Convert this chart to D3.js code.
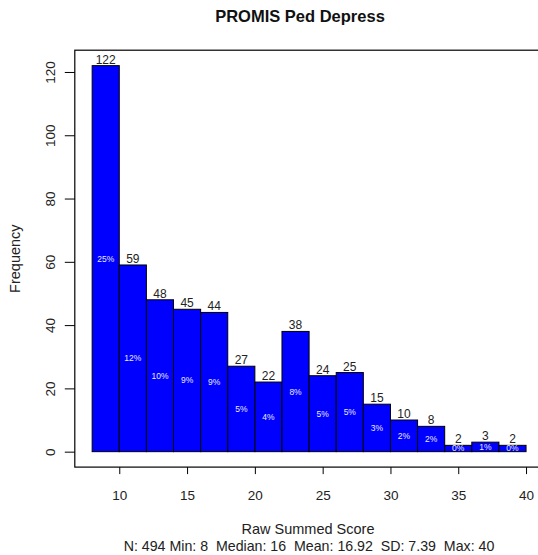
<!DOCTYPE html>
<html>
<head>
<meta charset="utf-8">
<script src="https://cdn.jsdelivr.net/npm/d3@7"></script>
<style>
  html, body { margin: 0; padding: 0; background: #fff; }
  svg { display: block; font-family: "Liberation Sans", Arial, sans-serif; }
  .keep-spaces { white-space: pre; }
</style>
</head>
<body>
<svg id="chart" width="538" height="555"></svg>
<script>
// Histogram of raw summed scores, bins of width 2 from 8 to 40
const binStarts = [8, 10, 12, 14, 16, 18, 20, 22, 24, 26, 28, 30, 32, 34, 36, 38];
const binWidth = 2;
const counts = [122, 59, 48, 45, 44, 27, 22, 38, 24, 25, 15, 10, 8, 2, 3, 2];
const percents = ["25%", "12%", "10%", "9%", "9%", "5%", "4%", "8%", "5%", "5%", "3%", "2%", "2%", "0%", "1%", "0%"];
const xTicks = [10, 15, 20, 25, 30, 35, 40];
const yTicks = [0, 20, 40, 60, 80, 100, 120];
const titleText = "PROMIS Ped Depress";
const xLabel = "Raw Summed Score";
const yLabel = "Frequency";
const summaryText = "N: 494 Min: 8  Median: 16  Mean: 16.92  SD: 7.39  Max: 40";

const svg = d3.select("#chart");

// Axis ranges padded by 4% like a base-graphics plot
const xMin = 8, xMax = 40, yMax = d3.max(counts);
const xPad = (xMax - xMin) * 0.04, yPad = yMax * 0.04;
const x = d3.scaleLinear().domain([xMin - xPad, xMax + xPad]).range([74.8, 543.4]);
const y = d3.scaleLinear().domain([-yPad, yMax + yPad]).range([467.1, 50.2]);

const bins = binStarts.map((s, i) => ({ x0: s, x1: s + binWidth, n: counts[i], pct: percents[i] }));

// Bars
svg.append("g").selectAll("rect").data(bins).join("rect")
  .attr("x", d => x(d.x0))
  .attr("y", d => y(d.n))
  .attr("width", d => x(d.x1) - x(d.x0))
  .attr("height", d => y(0) - y(d.n))
  .attr("fill", "#0000ff")
  .attr("stroke", "#000")
  .attr("stroke-width", 1);

// Count labels above bars
svg.append("g").selectAll("text").data(bins).join("text")
  .attr("x", d => x((d.x0 + d.x1) / 2))
  .attr("y", d => y(d.n) - 2)
  .attr("text-anchor", "middle")
  .attr("font-size", 12)
  .attr("fill", "#222")
  .text(d => d.n);

// Percentage labels at half bar height
svg.append("g").selectAll("text").data(bins).join("text")
  .attr("x", d => x((d.x0 + d.x1) / 2))
  .attr("y", d => y(d.n / 2))
  .attr("dy", "0.35em")
  .attr("text-anchor", "middle")
  .attr("font-size", 8.5)
  .attr("fill", "#e8e8ff")
  .text(d => d.pct);

// Plot frame
svg.append("rect")
  .attr("x", x.range()[0]).attr("y", y.range()[1])
  .attr("width", x.range()[1] - x.range()[0])
  .attr("height", y.range()[0] - y.range()[1])
  .attr("fill", "none").attr("stroke", "#000").attr("stroke-width", 1.2);

// X axis
const xAxis = d3.axisBottom(x).tickValues(xTicks).tickSize(7).tickPadding(0).tickFormat(d3.format("d"));
const gx = svg.append("g").attr("transform", `translate(0,${y.range()[0]})`).call(xAxis);
gx.select(".domain").remove();
gx.selectAll("line").attr("stroke", "#000");
gx.selectAll("text").attr("font-size", 13.5).attr("fill", "#222")
  .attr("dy", null).attr("y", 33).attr("font-family", "Liberation Sans, Arial, sans-serif");

// Y axis with vertical labels
const yAxis = d3.axisLeft(y).tickValues(yTicks).tickSize(10).tickFormat(d3.format("d"));
const gy = svg.append("g").attr("transform", `translate(${x.range()[0]},0)`).call(yAxis);
gy.select(".domain").remove();
gy.selectAll("line").attr("stroke", "#000");
gy.selectAll("text")
  .attr("x", null).attr("dy", null)
  .attr("text-anchor", "middle")
  .attr("font-size", 13.5).attr("fill", "#222")
  .attr("font-family", "Liberation Sans, Arial, sans-serif")
  .attr("transform", "translate(-20,0) rotate(-90)");

// Titles
svg.append("text").attr("x", 300).attr("y", 22).attr("text-anchor", "middle")
  .attr("font-size", 16.5).attr("font-weight", "bold").attr("fill", "#111").text(titleText);
svg.append("text").attr("x", 308).attr("y", 534).attr("text-anchor", "middle")
  .attr("font-size", 14.5).attr("fill", "#222").text(xLabel);
svg.append("text").attr("class", "keep-spaces").attr("x", 309).attr("y", 551).attr("text-anchor", "middle")
  .attr("font-size", 14.2).attr("fill", "#222").text(summaryText);
svg.append("text").attr("transform", `translate(20,${(y.range()[0] + y.range()[1]) / 2}) rotate(-90)`)
  .attr("text-anchor", "middle").attr("font-size", 14.5).attr("fill", "#222").text(yLabel);
</script>
</body>
</html>
